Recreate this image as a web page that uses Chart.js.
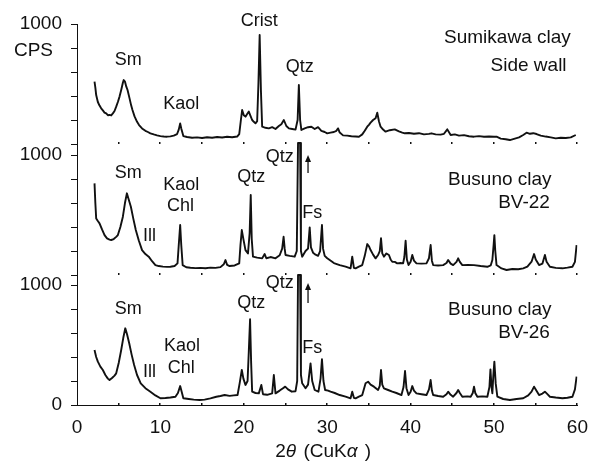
<!DOCTYPE html>
<html>
<head>
<meta charset="utf-8">
<script src="https://cdn.jsdelivr.net/npm/chart.js@4.4.1/dist/chart.umd.min.js"></script>
<style>
  html, body { margin: 0; padding: 0; background: #fff; }
  canvas { display: block; }
</style>
</head>
<body>
<canvas id="xrdChart" width="599" height="463"></canvas>
<script>
// XRD patterns, 2θ (deg) vs counts per second
const xTicks = [0, 10, 20, 30, 40, 50, 60];

const sideWallTheta = [2.1,2.2,2.3,2.5,2.7,2.9,3.1,3.3,3.5,3.7,3.9,4.1,4.3,4.5,4.7,4.9,5.1,5.3,5.5,5.6,5.75,5.9,6.06,6.3,6.5,6.65,6.9,7.2,7.44,7.8,8.2,8.5,8.8,9.2,9.6,10.0,10.4,10.8,11.2,11.6,12.0,12.2,12.37,12.5,12.75,13.2,13.8,14.4,15.0,15.6,16.2,16.8,17.4,18.0,18.6,19.2,19.45,19.65,19.8,20.0,20.2,20.4,20.6,20.8,21.0,21.2,21.4,21.6,21.75,21.9,22.05,22.2,22.6,23.0,23.4,23.8,24.2,24.5,24.8,25.1,25.4,25.8,26.2,26.45,26.6,26.75,26.9,27.3,27.7,28.1,28.5,28.9,29.3,29.7,30.0,30.4,30.8,31.1,31.3,31.5,31.9,32.4,32.9,33.4,33.8,34.2,34.5,34.8,35.0,35.2,35.5,35.8,36.0,36.2,36.4,36.7,37.0,37.5,38.1,38.6,39.0,39.3,39.8,40.4,41.0,41.6,42.2,42.5,43.0,43.6,44.0,44.4,44.8,45.3,45.8,46.4,47.0,47.6,48.2,48.8,49.4,50.0,50.3,50.8,51.4,51.9,52.5,53.0,53.5,53.9,54.3,54.7,55.1,55.6,56.2,56.8,57.4,58.0,58.6,59.2,59.8];
const sideWallCps = [519,470,408,350,320,297,280,262,255,240,242,238,255,275,311,350,395,450,510,533,520,480,450,380,320,283,230,185,158,130,110,100,89,80,72,66,62,61,64,70,83,120,172,130,66,58,52,55,50,56,52,58,54,60,56,62,83,200,283,240,228,250,270,235,200,185,172,190,500,908,450,144,135,130,140,125,150,165,200,150,130,125,120,200,492,200,117,130,140,144,125,140,110,100,89,95,100,110,130,95,72,70,65,63,61,80,110,144,160,178,200,215,261,190,144,120,103,115,122,105,95,89,92,85,90,80,84,89,80,78,85,122,75,80,70,74,65,61,66,60,63,60,61,45,40,33,45,55,75,94,85,90,83,70,62,55,47,52,50,55,75];

const bv22Theta = [2.1,2.2,2.3,2.5,2.7,3.0,3.3,3.6,3.9,4.1,4.4,4.7,4.9,5.2,5.5,5.75,5.98,6.2,6.46,6.75,7.05,7.4,7.8,8.2,8.6,9.0,9.4,9.8,10.3,10.8,11.2,11.7,12.05,12.2,12.37,12.5,12.67,13.1,13.6,14.2,14.8,15.4,16.0,16.6,17.2,17.6,17.8,18.0,18.3,18.9,19.45,19.6,19.76,19.95,20.2,20.5,20.7,20.83,20.95,21.1,21.6,22.2,22.5,22.7,23.2,23.8,24.3,24.6,24.77,24.9,25.0,25.5,26.1,26.35,26.5,26.75,26.85,27.0,27.4,27.7,27.9,28.05,28.3,28.6,28.9,29.15,29.37,29.5,29.7,30.0,30.3,30.8,31.5,32.2,32.8,33.0,33.2,33.4,33.8,34.2,34.5,34.8,35.0,35.2,35.5,35.8,36.1,36.3,36.45,36.6,36.8,37.1,37.4,37.6,37.8,38.1,38.4,38.8,39.1,39.25,39.4,39.55,39.75,40.0,40.2,40.4,40.7,41.3,41.9,42.2,42.4,42.55,42.7,43.3,43.9,44.3,44.5,44.8,45.1,45.5,45.7,45.9,46.2,46.9,47.6,48.4,49.2,49.6,49.8,49.95,50.04,50.15,50.3,50.9,51.5,52.2,52.9,53.5,54.0,54.5,54.8,55.0,55.4,55.8,56.1,56.3,56.7,57.4,58.2,58.8,59.4,59.7,59.9];
const bv22Cps = [764,600,472,450,431,380,333,305,295,292,300,318,333,400,486,600,681,630,569,470,375,290,208,175,153,115,83,75,70,68,69,75,97,250,417,250,83,65,61,58,60,57,62,60,66,90,125,85,75,80,97,250,375,300,208,180,350,667,300,153,145,139,175,140,150,139,165,220,319,220,167,160,153,200,1100,1100,200,153,200,220,397,230,186,170,160,200,417,220,160,140,125,100,83,70,56,153,60,56,70,83,160,258,240,208,170,139,167,200,306,180,153,180,167,130,111,110,97,100,97,150,286,130,83,110,167,120,97,95,97,140,250,120,83,80,83,100,125,95,83,110,139,110,83,85,83,75,69,80,125,250,333,200,83,55,42,50,48,56,70,111,175,130,83,95,167,110,69,60,56,62,69,110,250];

const bv26Theta = [2.1,2.3,2.5,2.8,3.1,3.4,3.7,3.9,4.2,4.5,4.7,5.0,5.3,5.55,5.79,6.0,6.26,6.55,6.85,7.2,7.64,8.2,8.8,9.4,10.0,10.6,11.2,11.8,12.1,12.37,12.55,12.75,13.4,14.0,14.7,15.3,16.0,16.7,17.2,17.7,18.3,18.8,19.25,19.5,19.76,19.95,20.2,20.45,20.6,20.75,20.88,21.0,21.4,21.8,22.1,22.3,22.8,23.4,23.6,23.8,24.3,24.7,24.96,25.3,25.75,26.2,26.4,26.5,26.75,26.85,27.0,27.4,27.7,28.0,28.2,28.5,28.95,29.2,29.37,29.55,29.75,30.1,30.4,30.9,31.5,32.2,32.8,33.0,33.2,33.4,33.8,34.2,34.6,34.9,35.2,35.6,36.1,36.3,36.45,36.6,36.8,37.3,37.8,38.3,38.9,39.15,39.33,39.5,39.75,40.0,40.2,40.4,40.7,41.3,41.9,42.2,42.4,42.55,42.7,43.3,43.9,44.3,44.5,44.8,45.1,45.5,45.7,45.9,46.2,46.8,47.2,47.45,47.6,47.75,48.0,48.6,49.2,49.45,49.57,49.7,49.8,49.92,50.04,50.2,50.4,51.1,51.9,52.7,53.5,54.1,54.5,54.8,55.0,55.4,55.8,56.1,56.4,56.7,57.4,58.2,58.8,59.4,59.7,59.9];
const bv26Cps = [458,400,361,320,292,250,220,208,225,245,264,350,458,560,639,590,514,420,333,250,181,140,111,80,56,58,62,69,100,158,110,56,50,45,42,45,55,69,75,83,76,80,83,180,292,220,167,200,450,714,350,111,100,97,167,90,85,97,250,97,120,140,153,130,111,115,200,1083,1083,250,181,139,170,347,200,125,111,220,381,200,125,120,111,100,83,70,56,111,60,56,70,83,181,194,170,153,125,160,292,170,139,125,111,100,83,150,283,140,83,110,158,120,97,90,83,130,208,120,83,75,69,90,111,85,69,100,125,100,69,72,69,100,153,100,69,72,69,150,297,150,97,250,361,180,69,50,42,50,56,80,111,153,130,83,95,111,90,69,62,56,60,69,130,236];

// each pattern sits on its own 0–1000 CPS panel, stacked on one axis
const PANEL_SPAN = 1000;
const panelBase = { bv26: 0, bv22: 1083, side: 2175 };
const panelTickStep = 200;

// peak labels: [text, 2θ, CPS within panel, panel]
const peakLabels = [
  ['Crist', 21.85, 1025, 'side'],
  ['Sm', 6.15, 700, 'side'],
  ['Kaol', 12.5, 333, 'side'],
  ['Qtz', 26.7, 640, 'side'],
  ['Sm', 6.15, 850, 'bv22'],
  ['Kaol', 12.5, 750, 'bv22'],
  ['Chl', 12.4, 575, 'bv22'],
  ['Ill', 8.7, 325, 'bv22'],
  ['Qtz', 20.9, 815, 'bv22'],
  ['Qtz', 24.3, 985, 'bv22'],
  ['Fs', 28.2, 515, 'bv22'],
  ['Sm', 6.15, 800, 'bv26'],
  ['Kaol', 12.6, 490, 'bv26'],
  ['Chl', 12.5, 310, 'bv26'],
  ['Ill', 8.7, 275, 'bv26'],
  ['Qtz', 20.9, 850, 'bv26'],
  ['Qtz', 24.3, 1017, 'bv26'],
  ['Fs', 28.2, 475, 'bv26']
];
const sampleLabels = [
  ['Sumikawa clay', 59.2, 883, 'side'],
  ['Side wall', 58.7, 650, 'side'],
  ['Busuno clay', 56.9, 792, 'bv22'],
  ['BV-22', 56.7, 600, 'bv22'],
  ['Busuno clay', 56.9, 792, 'bv26'],
  ['BV-26', 56.7, 600, 'bv26']
];
// off-scale arrows: [2θ, from CPS, to CPS, panel]
const offScaleArrows = [
  [27.7, 850, 1000, 'bv22'],
  [27.7, 850, 1017, 'bv26']
];

const FONT = "'Liberation Sans', Arial, sans-serif";

function toPoints(xs, ys, base) {
  return xs.map((x, i) => ({ x: x, y: ys[i] + base }));
}

const annotate = {
  id: 'annotate',
  afterDatasetsDraw(chart) {
    const ctx = chart.ctx;
    const xs = chart.scales.x, ys = chart.scales.y;
    const px = v => xs.getPixelForValue(v);
    const py = (v, p) => ys.getPixelForValue(v + panelBase[p]);
    ctx.save();
    ctx.fillStyle = '#111';
    ctx.strokeStyle = '#111';
    ctx.textBaseline = 'middle';

    // small tick dots along the panel baselines
    ['side', 'bv22', 'bv26'].forEach(p => {
      for (let t = 5; t <= 60; t += 5) {
        ctx.fillRect(Math.round(px(t)) - 1, Math.round(py(0, p)) - 2, 1.5, 2);
      }
    });

    ctx.font = '18px ' + FONT;
    ctx.textAlign = 'center';
    peakLabels.forEach(([text, x, v, p]) => {
      ctx.fillText(text, px(x), py(v, p));
    });
    ctx.font = '19px ' + FONT;
    ctx.textAlign = 'right';
    sampleLabels.forEach(([text, x, v, p]) => {
      ctx.fillText(text, px(x), py(v, p));
    });

    ctx.lineWidth = 1.3;
    offScaleArrows.forEach(([x, v0, v1, p]) => {
      const ax = px(x), y0 = py(v0, p), y1 = py(v1, p);
      ctx.beginPath();
      ctx.moveTo(ax, y0);
      ctx.lineTo(ax, y1 + 5);
      ctx.stroke();
      ctx.beginPath();
      ctx.moveTo(ax, y1);
      ctx.lineTo(ax - 3, y1 + 7);
      ctx.lineTo(ax + 3, y1 + 7);
      ctx.closePath();
      ctx.fill();
    });

    // y unit
    ctx.font = '19px ' + FONT;
    ctx.textAlign = 'right';
    ctx.fillText('CPS', chart.chartArea.left - 24, py(800, 'side') + 3);

    // x title with italic θ and α
    const parts = [['2', false], ['\u03b8', true], [' (CuK', false], ['\u03b1', true], [' )', false]];
    const fontFor = it => (it ? 'italic ' : '') + '19px ' + FONT;
    let total = 0;
    parts.forEach(([t, it]) => { ctx.font = fontFor(it); total += ctx.measureText(t).width; });
    let cx = (chart.chartArea.left + chart.chartArea.right) / 2 - total / 2 - 6;
    ctx.textAlign = 'left';
    parts.forEach(([t, it]) => {
      ctx.font = fontFor(it);
      ctx.fillText(t, cx, 452);
      cx += ctx.measureText(t).width + (it ? 2 : 0);
    });
    ctx.restore();
  }
};

function yTickLabel(value) {
  if (value === 0) return '0';
  for (const p in panelBase) {
    if (value === panelBase[p] + PANEL_SPAN) return '1000';
  }
  return '';
}

new Chart(document.getElementById('xrdChart'), {
  type: 'line',
  data: {
    datasets: [
      { label: 'Sumikawa clay Side wall', data: toPoints(sideWallTheta, sideWallCps, panelBase.side) },
      { label: 'Busuno clay BV-22', data: toPoints(bv22Theta, bv22Cps, panelBase.bv22) },
      { label: 'Busuno clay BV-26', data: toPoints(bv26Theta, bv26Cps, panelBase.bv26) }
    ].map(d => Object.assign(d, {
      borderColor: '#111', borderWidth: 1.9, pointRadius: 0, tension: 0, fill: false,
      borderJoinStyle: 'round'
    }))
  },
  options: {
    responsive: false,
    animation: false,
    layout: { padding: { top: 24, right: 14, left: 0, bottom: 0 } },
    plugins: { legend: { display: false }, tooltip: { enabled: false } },
    scales: {
      x: {
        type: 'linear', min: 0, max: 60,
        afterFit: s => { s.height = 58; },
        afterBuildTicks: s => { s.ticks = xTicks.map(v => ({ value: v })); },
        grid: { drawOnChartArea: false, drawTicks: false },
        border: { color: '#111', width: 1 },
        ticks: { color: '#111', padding: 11, font: { family: FONT, size: 19 }, maxRotation: 0 }
      },
      y: {
        type: 'linear', min: 0, max: panelBase.side + PANEL_SPAN,
        afterFit: s => { s.width = 77; },
        afterBuildTicks: s => {
          const t = [];
          Object.values(panelBase).forEach(b => {
            for (let v = 0; v <= PANEL_SPAN; v += panelTickStep) t.push({ value: b + v });
          });
          s.ticks = t.sort((a, b) => a.value - b.value);
        },
        grid: { drawOnChartArea: false, tickLength: 6, color: '#111', tickColor: '#111' },
        border: { color: '#111', width: 1 },
        ticks: { color: '#111', padding: 9, font: { family: FONT, size: 19 }, callback: yTickLabel, autoSkip: false }
      }
    }
  },
  plugins: [annotate]
});
</script>
</body>
</html>
